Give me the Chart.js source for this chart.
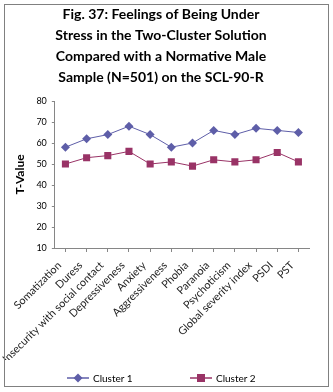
<!DOCTYPE html>
<html>
<head>
<meta charset="utf-8">
<script src="https://cdn.jsdelivr.net/npm/chart.js@4.4.1/dist/chart.umd.min.js"></script>
<style>
  html, body { margin: 0; padding: 0; background: #fff; }
  #wrap { position: relative; width: 333px; height: 392px; }
  #frame { position: absolute; left: 4px; top: 4px; width: 323px; height: 381px; border: 1px solid #808080; pointer-events: none; }
  .legend-item { position: absolute; top: 371px; height: 14px; display: flex; align-items: center;
    font-family: Lato, sans-serif; font-size: 10px; color: #000; white-space: nowrap; }
  .legend-item canvas { margin-right: 4px; }
</style>
</head>
<body>
<div id="wrap">
  <canvas id="stressChart" width="333" height="392"></canvas>
  <div id="legend"></div>
  <div id="frame"></div>
</div>
<script>
const categories = ['Somatization', 'Duress', 'Insecurity with social contact', 'Depressiveness', 'Anxiety',
  'Aggressiveness', 'Phobia', 'Paranoia', 'Psychoticism', 'Global severity index', 'PSDI', 'PST'];
const cluster1 = [58, 62, 64, 68, 64, 58, 60, 66, 64, 67, 66, 65];
const cluster2 = [50, 53, 54, 56, 50, 51, 49, 52, 51, 52, 55.5, 51];
const yTicks = [10, 20, 30, 40, 50, 60, 70, 80];

const blue = '#5E5EA8';
const maroon = '#993366';

// small line+marker picture for the legend
function legendIcon(color, shape) {
  const c = document.createElement('canvas');
  c.width = 22; c.height = 10;
  const g = c.getContext('2d');
  g.strokeStyle = color; g.lineWidth = 1.5;
  g.beginPath(); g.moveTo(0, 5); g.lineTo(22, 5); g.stroke();
  g.fillStyle = color;
  g.beginPath();
  if (shape === 'diamond') {
    g.moveTo(11, 0.5); g.lineTo(15.5, 5); g.lineTo(11, 9.5); g.lineTo(6.5, 5);
  } else {
    g.rect(7, 1, 8, 8);
  }
  g.closePath(); g.fill();
  return c;
}

const ctx = document.getElementById('stressChart').getContext('2d');
const chart = new Chart(ctx, {
  type: 'line',
  data: {
    labels: categories,
    datasets: [
      {
        label: 'Cluster 1',
        data: cluster1,
        borderColor: blue,
        backgroundColor: blue,
        borderWidth: 1,
        pointStyle: 'rectRot',
        pointRadius: 4.5,
        pointBorderWidth: 0,
        tension: 0
      },
      {
        label: 'Cluster 2',
        data: cluster2,
        borderColor: maroon,
        backgroundColor: maroon,
        borderWidth: 1,
        pointStyle: 'rect',
        pointRadius: 5,
        pointBorderWidth: 0,
        tension: 0
      }
    ]
  },
  options: {
    responsive: false,
    animation: false,
    layout: { padding: { left: 13, right: 24, top: 0, bottom: 32 } },
    plugins: {
      title: {
        display: true,
        text: ['Fig. 37: Feelings of Being Under', 'Stress in the Two-Cluster Solution',
          'Compared with a Normative Male', 'Sample (N=501) on the SCL-90-R'],
        font: { family: 'Lato', size: 14, weight: 'bold', lineHeight: 1.5 },
        color: '#000',
        padding: { top: 4, bottom: 13 }
      },
      legend: { display: false },
      tooltip: { enabled: false }
    },
    scales: {
      x: {
        offset: true,
        grid: { drawOnChartArea: false, color: '#868686', tickLength: 4 },
        border: { color: '#868686' },
        ticks: {
          font: { family: 'Lato', size: 10.8 },
          color: '#222',
          maxRotation: 45,
          minRotation: 45,
          autoSkip: false,
          padding: 7,
          labelOffset: -6
        },
        afterFit: (scale) => { scale.height = 112; }
      },
      y: {
        min: 10,
        max: 80,
        afterBuildTicks: (scale) => { scale.ticks = yTicks.map(v => ({ value: v })); },
        grid: { drawOnChartArea: false, color: '#868686', tickLength: 3 },
        border: { color: '#868686' },
        ticks: { font: { family: 'Lato', size: 9 }, color: '#000', padding: 5 },
        title: {
          display: true,
          text: 'T-Value',
          font: { family: 'Lato', size: 12, weight: 'bold' },
          color: '#000',
          padding: { top: 0, bottom: 4 }
        }
      }
    }
  }
});

// HTML legend, built from the datasets
const legendLeft = [67, 190];
const legendEl = document.getElementById('legend');
chart.data.datasets.forEach((ds, i) => {
  const item = document.createElement('div');
  item.className = 'legend-item';
  item.style.left = legendLeft[i] + 'px';
  item.appendChild(legendIcon(ds.borderColor, i === 0 ? 'diamond' : 'square'));
  const span = document.createElement('span');
  span.textContent = ds.label;
  item.appendChild(span);
  legendEl.appendChild(item);
});
</script>
</body>
</html>
